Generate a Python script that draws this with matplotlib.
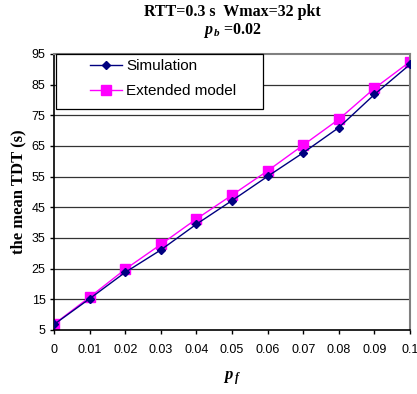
import matplotlib
matplotlib.use("Agg")
import matplotlib.pyplot as plt
from matplotlib.patches import Rectangle

plt.rcParams["mathtext.fontset"] = "custom"
plt.rcParams["mathtext.it"] = "Liberation Serif:italic:bold"
plt.rcParams["mathtext.rm"] = "Liberation Serif:bold"

pf = [0, 0.01, 0.02, 0.03, 0.04, 0.05, 0.06, 0.07, 0.08, 0.09, 0.1]
simulation = [6.8, 15.2, 23.8, 31.1, 39.5, 47.2, 55.1, 62.8, 71.0, 81.8, 91.6]
extended = [6.9, 15.7, 24.8, 32.9, 41.2, 49.0, 56.9, 65.3, 73.7, 83.8, 92.5]
xticks = [0, 0.01, 0.02, 0.03, 0.04, 0.05, 0.06, 0.07, 0.08, 0.09, 0.1]
xticklabels = ["0", "0.01", "0.02", "0.03", "0.04", "0.05", "0.06", "0.07", "0.08", "0.09", "0.1"]
yticks = [5, 15, 25, 35, 45, 55, 65, 75, 85, 95]

W, H = 417, 394
fig = plt.figure(figsize=(W/100, H/100), dpi=100)
ax = fig.add_axes([54/W, 1-330/H, (410-54)/W, (330-54)/H])

for y in yticks[1:-1]:
    ax.axhline(y, color="#333333", lw=0.9, zorder=1)

ax.plot(pf, simulation, color="#000080", lw=1.0, marker="D", ms=4.5,
        label="Simulation", zorder=3)
ax.plot(pf, extended, color="#FF00FF", lw=1.0, marker="s", ms=6.5,
        label="Extended model", zorder=2)

ax.set_xlim(0, 0.1)
ax.set_ylim(5, 95)
ax.set_xticks(xticks)
ax.set_xticklabels(xticklabels, fontfamily="Liberation Sans", fontsize=9)
ax.set_yticks(yticks)
ax.set_yticklabels([str(v) for v in yticks], fontfamily="Liberation Sans", fontsize=9)
ax.tick_params(axis="both", direction="out", length=3, width=1, color="black")
ax.tick_params(axis="x", pad=7)
ax.tick_params(axis="y", pad=3)

for s in ["left", "bottom"]:
    ax.spines[s].set_color("black")
    ax.spines[s].set_linewidth(1.2)
for s in ["top", "right"]:
    ax.spines[s].set_color("#808080")
    ax.spines[s].set_linewidth(1.5)

# legend frame
frame = Rectangle((56/W, 1-109/H), (263-56)/W, (109-54)/H, transform=fig.transFigure,
                  facecolor="white", edgecolor="black", lw=0.9, zorder=4)
ax.add_patch(frame)
frame.set_clip_on(False)

leg = ax.legend(loc="upper left", bbox_to_anchor=(90/W, 1-59/H),
                bbox_transform=fig.transFigure, frameon=False,
                prop={"family": "Liberation Sans", "size": 11},
                borderpad=0, handlelength=2.1, handletextpad=0.25,
                labelspacing=0.75, borderaxespad=0.0)
leg.set_zorder(5)

fig.text(232/W, 1-12/H, "RTT=0.3 s  Wmax=32 pkt", ha="center", va="center",
         fontfamily="Liberation Serif", fontweight="bold", fontsize=11.5)
fig.text(232/W, 1-30/H, r"$p_{\,b}$ =0.02", ha="center", va="center",
         fontfamily="Liberation Serif", fontweight="bold", fontsize=11.5)
fig.text(232/W, 1-378/H, r"$p_{\,f}$", ha="center", va="center",
         fontfamily="Liberation Serif", fontweight="bold", fontsize=12)
fig.text(18/W, 1-192/H, "the mean TDT (s)", ha="center", va="center", rotation=90,
         fontfamily="Liberation Serif", fontweight="bold", fontsize=12)

fig.savefig("out.png", dpi=100)
